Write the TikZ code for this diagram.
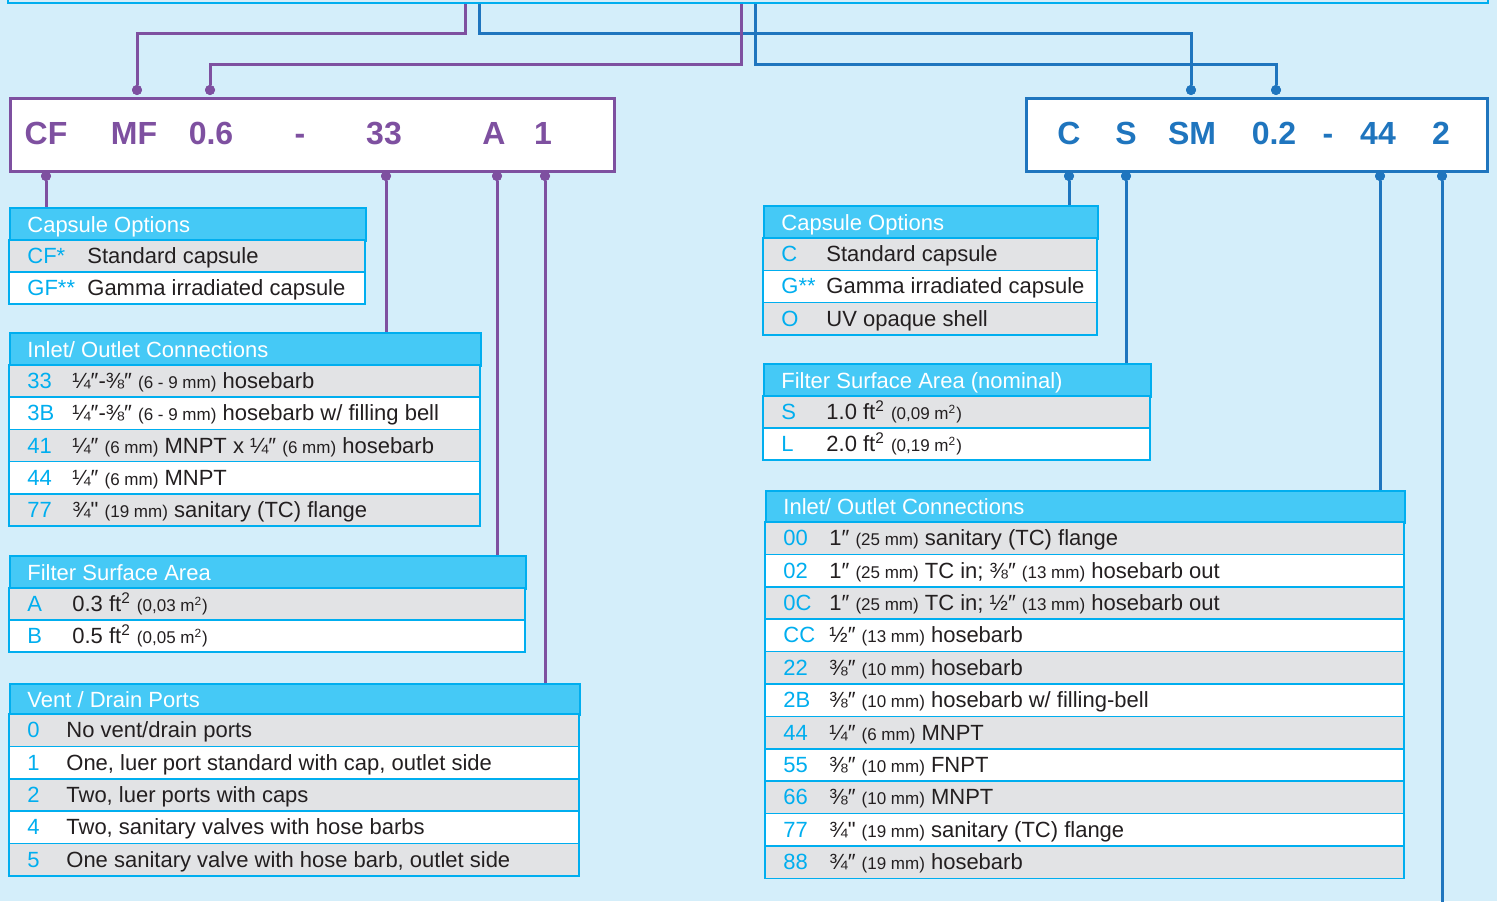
\documentclass[tikz,border=0pt]{standalone}
\usepackage{fontspec}
\setmainfont{Liberation Sans}

\definecolor{bgblue}{HTML}{D4EEFA}
\definecolor{lineblue}{HTML}{00AEEF}
\definecolor{hdrblue}{HTML}{45C9F6}
\definecolor{rowgray}{HTML}{E2E3E5}
\definecolor{purp}{HTML}{7E50A0}
\definecolor{darkblue}{HTML}{1F75BE}
\definecolor{txtgray}{HTML}{231F20}

\tikzset{
  pline/.style={purp, line width=1.5pt},
  bline/.style={darkblue, line width=1.5pt},
  pdot/.style={circle, fill=purp, inner sep=0pt, minimum size=5pt},
  bdot/.style={circle, fill=darkblue, inner sep=0pt, minimum size=5pt},
  tline/.style={lineblue, line width=0.8pt},
  hdr/.style={fill=hdrblue, draw=lineblue, line width=0.8pt, anchor=north west, inner sep=0pt},
  hdrtxt/.style={anchor=base west, inner sep=0pt, text=white, font=\fontsize{11}{13}\selectfont},
  codetxt/.style={anchor=base west, inner sep=0pt, text=lineblue, font=\fontsize{11}{13}\selectfont},
  desctxt/.style={anchor=base west, inner sep=0pt, text=txtgray, font=\fontsize{11}{13}\selectfont},
  pbox/.style={draw=purp, fill=white, line width=1.5pt, anchor=north west, inner sep=0pt},
  bbox/.style={draw=darkblue, fill=white, line width=1.5pt, anchor=north west, inner sep=0pt},
  keyP/.style={anchor=base, inner sep=0pt, text=purp, font=\fontsize{16}{18}\selectfont\bfseries},
  keyB/.style={anchor=base, inner sep=0pt, text=darkblue, font=\fontsize{16}{18}\selectfont\bfseries}
}

% small text in brackets
\newcommand{\smalltxt}[1]{{\fontsize{8.5}{10}\selectfont #1}}
\newcommand{\sqr}{\textsuperscript{2}}

% name, left, right, top, header height, row height, text offset, header, rows
\newcommand{\opttable}[9]{%
  \node[hdr, minimum width={(#3-#2)*0.5pt}, minimum height={#5*0.5pt}] (#1) at (#2,#4) {};
  \node[hdrtxt] (#1-t) at (#2+18,#4+#5/2+8.5) {#8};
  \foreach \c/\d [count=\i] in {#9} {
    \pgfmathsetmacro\ya{#4+#5+#6*(\i-1)}
    \pgfmathsetmacro\yb{\ya+#6}
    \ifodd\i \def\rf{rowgray}\else\def\rf{white}\fi
    \draw[tline, fill=\rf] (#2,\ya) rectangle (#3,\yb);
    \node[codetxt] (#1-c\i) at (#2+18,\ya+#6/2+7.5) {\c};
    \node[desctxt] (#1-d\i) at (#2+#7,\ya+#6/2+7.5) {\d};
  }
}

\begin{document}
\begin{tikzpicture}[x=0.5pt, y=-0.5pt]
% Background
\useasboundingbox (0,0) rectangle (1497,901);
\fill[bgblue] (0,0) rectangle (1497,901);

% Frame at the top (cut off)
\node[draw=lineblue, line width=0.8pt, anchor=south west, minimum width=740pt, minimum height=40pt, inner sep=0pt] (topbar) at (7,4) {};
\coordinate (pA) at (465,4);
\coordinate (pB) at (741,4);
\coordinate (bA) at (479,4);
\coordinate (bB) at (755,4);

% Code boxes
\node[pbox, minimum width=302pt, minimum height=36.5pt] (codeL) at (9,97) {};
\node[bbox, minimum width=230.5pt, minimum height=36.5pt] (codeR) at (1025,97) {};

\node[keyP] (kCF) at (46,144) {CF};
\node[keyP] (kMF) at (134,144) {MF};
\node[keyP] (k06) at (211,144) {0.6};
\node[keyP] (kdL) at (300,144) {-};
\node[keyP] (k33) at (384,144) {33};
\node[keyP] (kA) at (494,144) {A};
\node[keyP] (k1) at (543,144) {1};

\node[keyB] (kC) at (1069,144) {C};
\node[keyB] (kS) at (1126,144) {S};
\node[keyB] (kSM) at (1192,144) {SM};
\node[keyB] (k02) at (1274,144) {0.2};
\node[keyB] (kdR) at (1328,144) {-};
\node[keyB] (k44) at (1378,144) {44};
\node[keyB] (k2) at (1441,144) {2};

% Dots on the code boxes
\node[pdot] (dMF) at (137,90) {};
\node[pdot] (d06) at (210,90) {};
\node[pdot] (dCF) at (46,176) {};
\node[pdot] (d33) at (386,176) {};
\node[pdot] (dA) at (497,176) {};
\node[pdot] (d1) at (545,176) {};

\node[bdot] (dSM) at (1191,90) {};
\node[bdot] (d02) at (1276,90) {};
\node[bdot] (dC) at (1069,176) {};
\node[bdot] (dS) at (1126,176) {};
\node[bdot] (d44) at (1380,176) {};
\node[bdot] (d2) at (1442,176) {};
\coordinate (vEnd) at (1442,905);

% Tables, left
\opttable{capL}{9}{365}{207}{33}{32}{78}{Capsule Options}{CF*/{Standard capsule},GF**/{Gamma irradiated capsule}}
\opttable{conL}{9}{480}{332}{33}{32.2}{63}{Inlet/ Outlet Connections}{%
  33/{¼″-⅜″ \smalltxt{(6 - 9 mm)} hosebarb},
  3B/{¼″-⅜″ \smalltxt{(6 - 9 mm)} hosebarb w/ filling bell},
  41/{¼″ \smalltxt{(6 mm)} MNPT x ¼″ \smalltxt{(6 mm)} hosebarb},
  44/{¼″ \smalltxt{(6 mm)} MNPT},
  77/{¾\textquotedbl{} \smalltxt{(19 mm)} sanitary (TC) flange}}
\opttable{areaL}{9}{525}{555}{33}{32}{63}{Filter Surface Area}{%
  A/{0.3 ft\sqr{} \smalltxt{(0,03 m\sqr)}},
  B/{0.5 ft\sqr{} \smalltxt{(0,05 m\sqr)}}}
\opttable{ventL}{9}{579}{683}{31}{32.4}{57}{Vent / Drain Ports}{%
  0/{No vent/drain ports},
  1/{One, luer port standard with cap, outlet side},
  2/{Two, luer ports with caps},
  4/{Two, sanitary valves with hose barbs},
  5/{One sanitary valve with hose barb, outlet side}}

% Tables, right
\opttable{capR}{763}{1097}{205}{33}{32.3}{63}{Capsule Options}{%
  C/{Standard capsule},
  G**/{Gamma irradiated capsule},
  O/{UV opaque shell}}
\opttable{areaR}{763}{1150}{363}{33}{32}{63}{Filter Surface Area (nominal)}{%
  S/{1.0 ft\sqr{} \smalltxt{(0,09 m\sqr)}},
  L/{2.0 ft\sqr{} \smalltxt{(0,19 m\sqr)}}}
\opttable{conR}{765}{1404}{490}{32}{32.4}{64}{Inlet/ Outlet Connections}{%
  00/{1″ \smalltxt{(25 mm)} sanitary (TC) flange},
  02/{1″ \smalltxt{(25 mm)} TC in; ⅜″ \smalltxt{(13 mm)} hosebarb out},
  0C/{1″ \smalltxt{(25 mm)} TC in; ½″ \smalltxt{(13 mm)} hosebarb out},
  CC/{½″ \smalltxt{(13 mm)} hosebarb},
  22/{⅜″ \smalltxt{(10 mm)} hosebarb},
  2B/{⅜″ \smalltxt{(10 mm)} hosebarb w/ filling-bell},
  44/{¼″ \smalltxt{(6 mm)} MNPT},
  55/{⅜″ \smalltxt{(10 mm)} FNPT},
  66/{⅜″ \smalltxt{(10 mm)} MNPT},
  77/{¾\textquotedbl{} \smalltxt{(19 mm)} sanitary (TC) flange},
  88/{¾″ \smalltxt{(19 mm)} hosebarb}}

% Connectors from the top frame
\draw[bline] (bA) -- ++(0,29) -| (dSM);
\draw[bline] (bB) -- ++(0,60) -| (d02);
\draw[pline] (pA) -- ++(0,29) -| (dMF);
\draw[pline] (pB) -- ++(0,60) -| (d06);

% Connectors down to the tables
\draw[pline] (dCF) -- (capL.north -| dCF);
\draw[pline] (d33) -- (conL.north -| d33);
\draw[pline] (dA) -- (areaL.north -| dA);
\draw[pline] (d1) -- (ventL.north -| d1);
\draw[bline] (dC) -- (capR.north -| dC);
\draw[bline] (dS) -- (areaR.north -| dS);
\draw[bline] (d44) -- (conR.north -| d44);
\draw[bline] (d2) -- (vEnd);

% Dots again on top
\foreach \n in {dMF,d06,dCF,d33,dA,d1} \fill[purp] (\n) circle (5);
\foreach \n in {dSM,d02,dC,dS,d44,d2} \fill[darkblue] (\n) circle (5);
\end{tikzpicture}
\end{document}
